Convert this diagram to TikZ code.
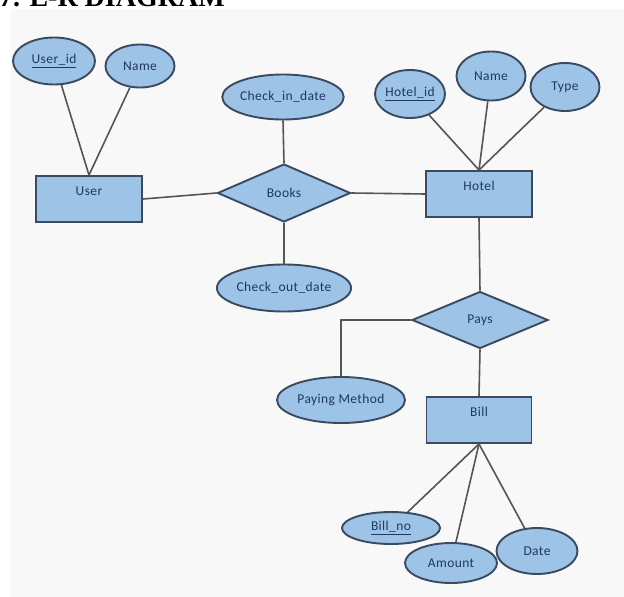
\documentclass[tikz,border=0pt]{standalone}
\usepackage{fontspec}
\setmainfont[LetterSpace=3]{Carlito}
\newfontfamily\titlefont{Liberation Serif}
\usetikzlibrary{shapes.geometric}
\definecolor{erfill}{HTML}{9DC3E6}
\definecolor{erdraw}{HTML}{3A4A60}
\definecolor{ertext}{HTML}{1F3864}
\definecolor{erline}{HTML}{555555}
\definecolor{paper}{HTML}{F8F8F8}
\tikzset{
	erfont/.style={font=\fontsize{13.5}{15}\selectfont, text=ertext},
	entity/.style={draw=erdraw, fill=erfill, line width=1.9pt, minimum width=106pt, minimum height=46pt,
		inner sep=0pt, text height=9pt, text depth=16pt, erfont},
	attrib/.style={ellipse, draw=erdraw, fill=erfill, line width=1.9pt, inner sep=0pt, erfont},
	relation/.style={diamond, draw=erdraw, fill=erfill, line width=1.9pt, inner sep=0pt, erfont},
	link/.style={draw=erline, line width=1.6pt}
}
\begin{document}
\begin{tikzpicture}[x=1pt,y=-1pt]
	\clip (0,0) rectangle (624,597);
	\fill[white] (0,0) rectangle (624,597);
	\fill[paper] (11,9) rectangle (624,597);
	\node[anchor=base west, inner sep=0pt, font=\titlefont\bfseries\fontsize{28}{30}\selectfont] (title) at (-1,6) {7. E-R DIAGRAM};
	
	% User
	\node[entity] (user) at (89,199) {User};
	\node[attrib, minimum width=82pt, minimum height=47pt] (userid) at (54,61) {\underline{User\_id}};
	\node[attrib, minimum width=69pt, minimum height=43pt] (username) at (140,66) {Name};
	\draw[link] (userid) -- (user.north);
	\draw[link] (username) -- (user.north);
	
	% Books
	\node[relation, minimum width=133pt, minimum height=58pt] (books) at (284,193) {Books};
	\node[attrib, minimum width=120pt, minimum height=45pt] (checkin) at (283,97) {Check\_in\_date};
	\node[attrib, minimum width=128pt, minimum height=47pt] (checkout) at (284,288) {Check\_out\_date};
	\draw[link] (user.east) -- (books.west);
	\draw[link] (books.north) -- (checkin.south);
	\draw[link] (books.south) -- (checkout.north);
	
	% Hotel
	\node[entity] (hotel) at (479,194) {Hotel};
	\node[attrib, minimum width=69pt, minimum height=48pt] (hotelid) at (410,94) {\underline{Hotel\_id}};
	\node[attrib, minimum width=69pt, minimum height=49pt] (hotelname) at (491,76) {Name};
	\node[attrib, minimum width=69pt, minimum height=48pt] (hoteltype) at (565,87) {Type};
	\draw[link] (books.east) -- (hotel.west);
	\draw[link] (hotelid) -- (hotel.north);
	\draw[link] (hotelname) -- (hotel.north);
	\draw[link] (hoteltype) -- (hotel.north);
	
	% Pays
	\node[relation, minimum width=136pt, minimum height=57pt] (pays) at (480,320) {Pays};
	\node[attrib, minimum width=128pt, minimum height=46pt] (paymethod) at (341,400) {Paying Method};
	\draw[link] (hotel.south) -- (pays.north);
	\draw[link] (pays.west) -| (paymethod.north);
	
	% Bill
	\node[entity, minimum width=105pt] (bill) at (479,420) {Bill};
	\node[attrib, minimum width=98pt, minimum height=32pt] (billno) at (391,528) {\underline{Bill\_no}};
	\node[attrib, minimum width=92pt, minimum height=40pt] (amount) at (451,563) {Amount};
	\node[attrib, minimum width=81pt, minimum height=46pt] (billdate) at (537,551) {Date};
	\draw[link] (pays.south) -- (bill.north);
	\draw[link] (bill.south) -- (billno);
	\draw[link] (bill.south) -- (amount);
	\draw[link] (bill.south) -- (billdate);
\end{tikzpicture}
\end{document}
